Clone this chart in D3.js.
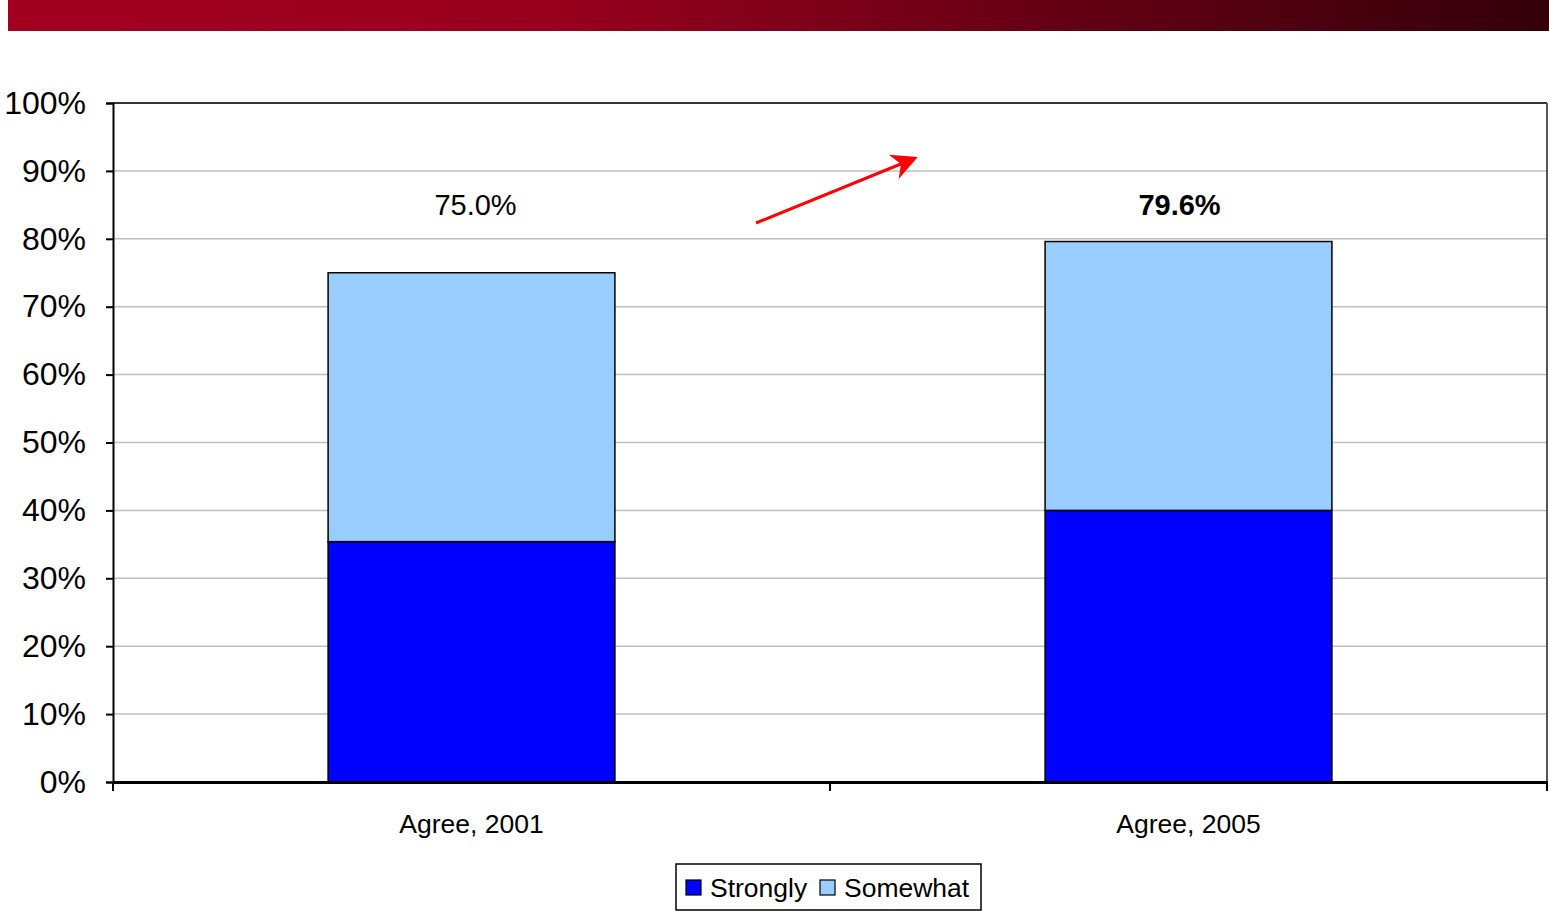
<!DOCTYPE html>
<html>
<head>
<meta charset="utf-8">
<script src="https://cdn.jsdelivr.net/npm/d3@7"></script>
<style>
  html, body { margin: 0; padding: 0; background: #fff; }
  svg { display: block; font-family: "Liberation Sans", Arial, sans-serif; }
</style>
</head>
<body>
<svg id="chart" width="1549" height="911"></svg>
<script>
// Share agreeing, by survey year
const categories = ["Agree, 2001", "Agree, 2005"];
const strongly = [35.4, 40.0];
const somewhat = [39.6, 39.6];
const totals = [75.0, 79.6];
const seriesNames = ["Strongly", "Somewhat"];
const seriesColors = ["#0000FF", "#99CCFF"];
const yTicks = [0, 10, 20, 30, 40, 50, 60, 70, 80, 90, 100];

const svg = d3.select("#chart");
const W = 1549, H = 911;
const m = { left: 113, right: 2, top: 103, bottom: 129 };
const plotW = W - m.left - m.right;
const plotH = H - m.top - m.bottom;

// Header band
const defs = svg.append("defs");
const grad = defs.append("linearGradient").attr("id", "band").attr("x1", "0").attr("x2", "1");
grad.append("stop").attr("offset", "0").attr("stop-color", "#A30020");
grad.append("stop").attr("offset", "0.35").attr("stop-color", "#98001E");
grad.append("stop").attr("offset", "1").attr("stop-color", "#34000A");
svg.append("rect").attr("x", 8).attr("y", 0).attr("width", W - 8).attr("height", 31).attr("fill", "url(#band)");

const x = d3.scaleBand().domain(categories).range([0, plotW]).paddingInner(0).paddingOuter(0);
const y = d3.scaleLinear().domain([0, 100]).range([plotH, 0]);

const g = svg.append("g").attr("transform", `translate(${m.left},${m.top})`);

// Gridlines
g.append("g").selectAll("line").data(yTicks.filter(t => t > 0 && t < 100)).join("line")
  .attr("x1", 0).attr("x2", plotW)
  .attr("y1", d => y(d)).attr("y2", d => y(d))
  .attr("stroke", "#C0C0C0").attr("stroke-width", 1.5);

// Plot frame (top and right)
g.append("line").attr("x1", 0).attr("x2", plotW).attr("y1", 0).attr("y2", 0).attr("stroke", "#333").attr("stroke-width", 2);
g.append("line").attr("x1", plotW).attr("x2", plotW).attr("y1", 0).attr("y2", plotH).attr("stroke", "#555").attr("stroke-width", 2);

// Stacked bars
const rows = categories.map((c, i) => ({ cat: c, Strongly: strongly[i], Somewhat: somewhat[i] }));
const stack = d3.stack().keys(seriesNames)(rows);
const barW = x.bandwidth() * 0.4;
stack.forEach((layer, li) => {
  g.append("g").selectAll("rect").data(layer).join("rect")
    .attr("x", d => x(d.data.cat) + (x.bandwidth() - barW) / 2)
    .attr("y", d => y(d[1]))
    .attr("width", barW)
    .attr("height", d => y(d[0]) - y(d[1]))
    .attr("fill", seriesColors[li])
    .attr("stroke", "#000").attr("stroke-width", 1.5);
});

// Total labels
g.append("g").selectAll("text").data(totals).join("text")
  .attr("x", (d, i) => x(categories[i]) + x.bandwidth() / 2 + (i === 0 ? 4 : -9))
  .attr("y", 112)
  .attr("text-anchor", "middle")
  .attr("font-size", 29)
  .attr("font-weight", (d, i) => i === 1 ? "bold" : "normal")
  .attr("fill", "#000")
  .text(d => d.toFixed(1) + "%");

// Y axis
const yAxis = d3.axisLeft(y).tickValues(yTicks).tickFormat(d => d + "%").tickSize(7).tickPadding(20);
const ya = g.append("g").call(yAxis);
ya.select(".domain").attr("stroke", "#000").attr("stroke-width", 2);
ya.selectAll(".tick line").attr("stroke", "#000").attr("stroke-width", 2);
ya.selectAll(".tick text").attr("font-size", 32).attr("fill", "#000").attr("font-family", "Liberation Sans, Arial, sans-serif");

// X axis
const xa = g.append("g").attr("transform", `translate(0,${plotH})`)
  .call(d3.axisBottom(x).tickSize(0).tickPadding(32));
xa.select(".domain").attr("stroke", "#000").attr("stroke-width", 3);
xa.selectAll(".tick text").attr("font-size", 26.5).attr("fill", "#000").attr("font-family", "Liberation Sans, Arial, sans-serif");
// Category separators
const seps = [0, plotW / 2, plotW];
g.append("g").selectAll("line").data(seps).join("line")
  .attr("x1", d => d).attr("x2", d => d)
  .attr("y1", plotH).attr("y2", plotH + 9)
  .attr("stroke", "#000").attr("stroke-width", 2);

// Trend arrow
defs.append("marker").attr("id", "head").attr("viewBox", "0 0 10 10")
  .attr("refX", 8).attr("refY", 5)
  .attr("markerUnits", "userSpaceOnUse").attr("orient", "auto")
  .attr("markerWidth", 30).attr("markerHeight", 26)
  .append("path").attr("d", "M0,0 L10,5 L0,10 L3,5 Z").attr("fill", "#FF0000");
svg.append("line").attr("x1", 756).attr("y1", 223).attr("x2", 913).attr("y2", 159)
  .attr("stroke", "#FF0000").attr("stroke-width", 3).attr("marker-end", "url(#head)");

// Legend
const lg = svg.append("g").attr("transform", "translate(676,864)");
lg.append("rect").attr("width", 305).attr("height", 46).attr("fill", "#fff").attr("stroke", "#000").attr("stroke-width", 1.5);
const items = [{ name: seriesNames[0], c: seriesColors[0], x: 10 }, { name: seriesNames[1], c: seriesColors[1], x: 144 }];
items.forEach(it => {
  lg.append("rect").attr("x", it.x).attr("y", 16).attr("width", 15).attr("height", 15)
    .attr("fill", it.c).attr("stroke", "#000").attr("stroke-width", 1.2);
  lg.append("text").attr("x", it.x + 24).attr("y", 33).attr("font-size", 26.5).attr("fill", "#000").text(it.name);
});
</script>
</body>
</html>
